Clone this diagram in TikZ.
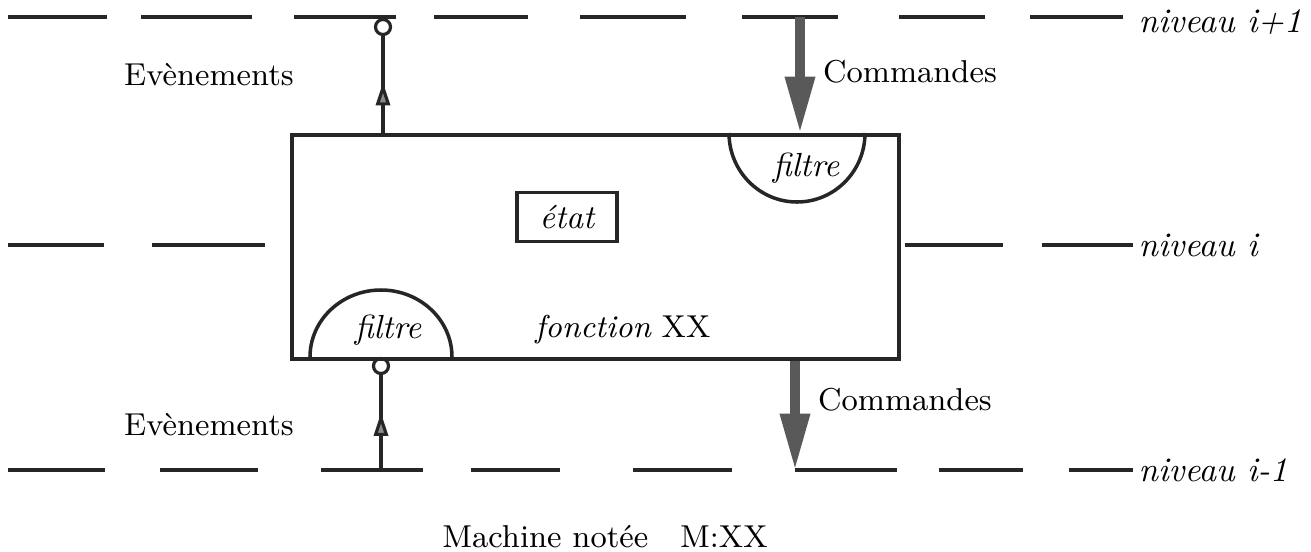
\documentclass[tikz,border=0pt]{standalone}
\usetikzlibrary{arrows.meta,decorations.markings}
\begin{document}
\begin{tikzpicture}[x=0.01cm,y=-0.01cm,
  lvl/.style={line width=0.9pt, draw=black!85},
  lbl/.style={inner sep=0pt, font=\fontsize{9}{10}\selectfont},
  ilbl/.style={inner sep=0pt, font=\fontsize{9.5}{10}\selectfont\itshape},
  nlbl/.style={inner sep=0pt, font=\fontsize{9.8}{11}\selectfont\itshape},
  ring/.style={circle, draw=black!85, line width=0.9pt, inner sep=0pt, minimum size=1.5mm},
  evt/.style={line width=0.9pt, draw=black!85, postaction={decorate},
    decoration={markings, mark=at position #1 with {\arrow{Triangle[length=6.5pt,width=4pt,fill=black!45]}}}},
  cmd/.style={line width=2.6pt, draw=black!65, -{Triangle[length=16pt,width=8pt,fill=black!65]}},
  filt/.style={line width=1pt, draw=black!85}
]
\useasboundingbox (0,0) rectangle (1311,551);

% level lines
\foreach \a/\b in {8/107,141/252,294/396,434/528,580/686,742/838,899/985,1030/1123}
  \draw[lvl] (\a,17) -- (\b,17);
\foreach \a/\b in {8/104,152/265,905/1003,1042/1133}
  \draw[lvl] (\a,245) -- (\b,245);
\foreach \a/\b in {8/105,160/258,321/423,471/560,633/732,795/897,939/1023,1069/1133}
  \draw[lvl] (\a,470) -- (\b,470);

\node[nlbl, anchor=west] (n1) at (1138,22) {niveau \textit{i}+1};
\node[nlbl, anchor=west] (n0) at (1138,245) {niveau \textit{i}};
\node[nlbl, anchor=west] (nm) at (1138,470) {niveau \textit{i}-1};

% machine box
\node[draw=black!85, line width=1pt, anchor=north west, inner sep=0pt,
      minimum width=6.07cm, minimum height=2.24cm] (box) at (290,133) {};
\node[draw=black!85, line width=1pt, inner sep=0pt, minimum width=1cm, minimum height=0.49cm,
      font=\fontsize{9.5}{10}\selectfont\itshape] (etat) at (567,217) {état};
\node[lbl] (fonc) at (623,330) {\itshape fonction\upshape\ XX};

% filters
\draw[filt] (729,133) arc[start angle=180, end angle=0, x radius=68, y radius=69];
\node[ilbl] (f1) at (806,168) {filtre};
\draw[filt] (310,357) arc[start angle=180, end angle=360, x radius=71, y radius=67];
\node[ilbl] (f2) at (388,330) {filtre};

% events (upward)
\node[ring] (ct) at (383,27) {};
\draw[evt=0.52] (box.north -| ct) -- (ct.south);
\node[lbl] (e1) at (209,75) {Evènements};

\node[ring] (cb) at (381,366) {};
\coordinate (eb) at (381,470);
\draw[evt=0.6] (eb) -- (cb.south);
\node[lbl] (e2) at (209,425) {Evènements};

% commands (downward)
\coordinate (ctop) at (800,17);
\draw[cmd] (ctop) -- (box.north -| ctop);
\node[lbl] (c1) at (910,72) {Commandes};

\coordinate (cbot) at (795,470);
\draw[cmd] (box.south -| cbot) -- (cbot);
\node[lbl] (c2) at (905,400) {Commandes};

\node[lbl] (mach) at (605,537) {Machine notée\quad M:XX};
\end{tikzpicture}
\end{document}
